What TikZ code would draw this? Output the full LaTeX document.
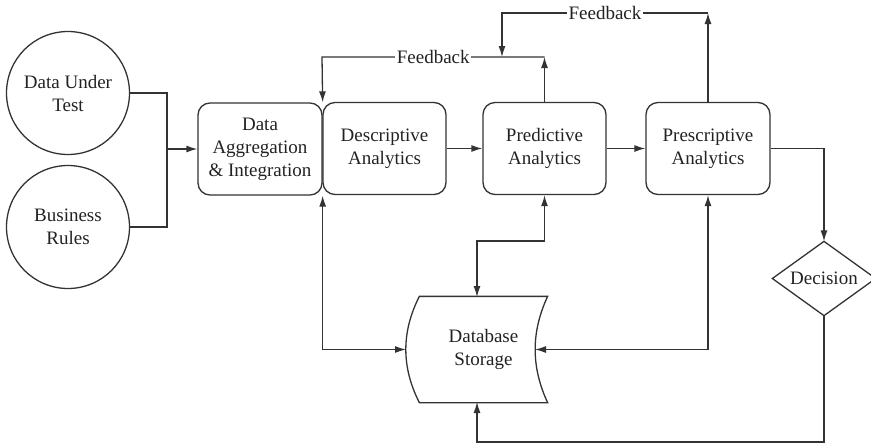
\documentclass[tikz,border=0pt]{standalone}
\usepackage{fontspec}
\setmainfont{Liberation Serif}
\usetikzlibrary{arrows.meta}
\definecolor{ink}{HTML}{333333}
\definecolor{txt}{HTML}{222222}
\tikzset{
  base/.style={draw=ink, line width=1.3pt, text=txt, align=center, inner sep=0pt,
    font=\fontsize{19}{23}\selectfont},
  roundbox/.style={base, rounded corners=12pt, minimum width=123pt, minimum height=92pt},
  roundnode/.style={base, circle, minimum size=123pt},
  plain/.style={base, draw=none},
  conn/.style={draw=ink, line width=1.3pt},
  tip/.tip={Latex[length=11pt,width=7pt]},
  arr/.style={conn, -tip},
  biarr/.style={conn, tip-tip},
  fblabel/.style={fill=white, inner sep=1.5pt, text=txt, font=\fontsize{19}{23}\selectfont}
}
\begin{document}
\begin{tikzpicture}[x=1pt, y=-1pt]
\useasboundingbox (0,0) rectangle (871,445);

% sources
\node[roundnode] (dut) at (68,93) {Data Under\\Test};
\node[roundnode] (br) at (68,227) {Business\\Rules};

% processing chain
\node[roundbox, minimum width=124pt] (agg) at (260,149) {Data\\Aggregation\\\& Integration};
\node[roundbox] (desc) at (384.5,148.5) {Descriptive\\Analytics};
\node[roundbox] (pred) at (544.5,148.5) {Predictive\\Analytics};
\node[roundbox, minimum width=124pt] (presc) at (708,148.5) {Prescriptive\\Analytics};

% stored-data shape
\node[plain, minimum width=127pt, minimum height=105pt] (db) at (483.5,349.5) {Database\\Storage};
\draw[conn] (db.north west) -- (db.north east)
  .. controls (531,332) and (531,367) .. (db.south east)
  -- (db.south west)
  .. controls (401.3,367) and (401.3,332) .. (db.north west) -- cycle;

% decision diamond
\node[plain, minimum width=102pt, minimum height=73pt] (dec) at (824,278.5) {Decision};
\draw[conn] (dec.north) -- (dec.east) -- (dec.south) -- (dec.west) -- cycle;

% bend points and free ends
\coordinate (jn) at (167,149);
\coordinate (dbL) at (406,349.5);
\coordinate (dbR) at (535,349.5);
\coordinate (dbT) at (477,297);
\coordinate (dbB) at (477,402);
\coordinate (k1) at (477,241);
\coordinate (k2) at (824,442);
\coordinate (f1R) at (544.5,57);
\coordinate (f1L) at (322,57);
\coordinate (f2R) at (708,13);
\coordinate (f2L) at (502,13);
\coordinate (f2D) at (502,57);

% inputs
\draw[conn] (dut.east) -| (jn);
\draw[conn] (br.east) -| (jn);
\draw[arr] (jn) -- (agg.west);

% main flow
\draw[arr] (desc.east) -- (pred.west);
\draw[arr] (pred.east) -- (presc.west);
\draw[arr] (presc.east) -| (dec.north);

% storage links
\draw[biarr] (agg.south east) |- (dbL);
\draw[biarr] (pred.south) |- (k1) -- (dbT);
\draw[biarr] (presc.south) |- (dbR);
\draw[arr] (dec.south) -- (k2) -| (dbB);

% feedback loops
\draw[arr] (pred.north) -- (f1R);
\draw[arr] (f1R) -- node[fblabel] {Feedback} (f1L) -- (agg.north east);
\draw[arr] (presc.north) -- (f2R);
\draw[arr] (f2R) -- node[fblabel] {Feedback} (f2L) -- (f2D);
\end{tikzpicture}
\end{document}
